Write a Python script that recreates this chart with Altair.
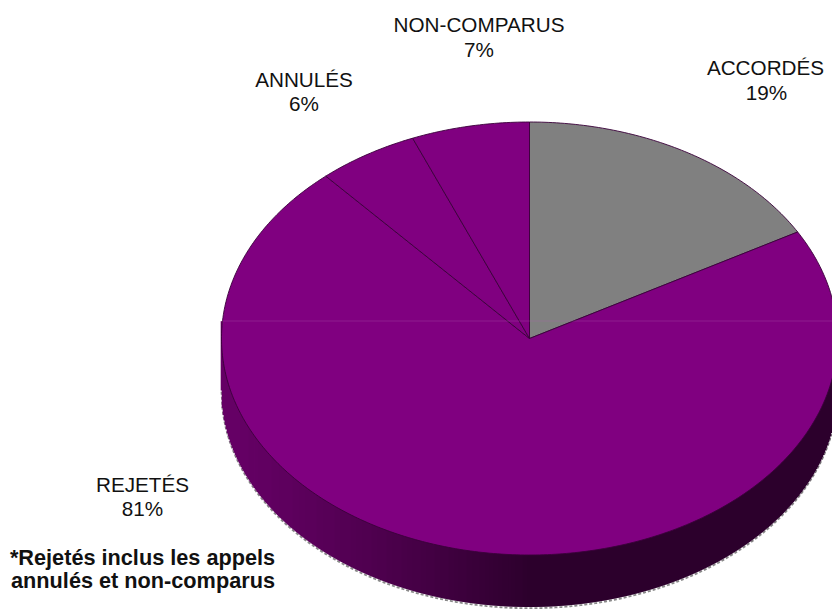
import math
import altair as alt
import pandas as pd

# Values as printed on the slices (they sum to more than 100)
categories = ["ACCORDÉS", "REJETÉS", "ANNULÉS", "NON-COMPARUS"]
values = [19, 81, 6, 7]
slice_colors = ["#808080", "#800080", "#800080", "#800080"]
label_lines = ["ACCORDÉS", "19%", "NON-COMPARUS", "7%", "ANNULÉS", "6%", "REJETÉS", "81%"]
label_x = [765.5, 766.5, 479, 479, 304, 304, 142.5, 142.5]
label_y = [75, 100, 32, 57, 87, 111, 492, 516]
note_lines = ["*Rejetés inclus les appels", "annulés et non-comparus"]
note_x = [142.5, 143]
note_y = [565, 588]

W, H = 824, 602
CX, CY, RX, RY, DEPTH = 529.5, 338.5, 308.0, 216.5, 52.0
x_scale = alt.Scale(domain=[(8 - CX) / RX, (8 + W - CX) / RX], range=[0, W], nice=False, zero=False)
y_scale = alt.Scale(domain=[(CY - 8 - H) / RY, (CY - 8) / RY], range=[H, 0], nice=False, zero=False)
ax = dict(title=None, axis=None, scale=x_scale)
ay = dict(title=None, axis=None, scale=y_scale)
total = sum(values)
d = DEPTH / RY

# Pie slices, derived from the values
rows = []
start = 0.0
for name, v, c in zip(categories, values, slice_colors):
    end = start + v / total * 2 * math.pi
    n = max(4, int((end - start) * 80))
    rows.append(dict(cat=name, i=0, px=0.0, py=0.0, col=c))
    for k in range(n + 1):
        a = start + (end - start) * k / n
        rows.append(dict(cat=name, i=k + 1, px=math.sin(a), py=math.cos(a), col=c))
    rows.append(dict(cat=name, i=n + 2, px=0.0, py=0.0, col=c))
    start = end
slices = pd.DataFrame(rows)


def shade(u):
    # side wall darkens from the left edge to the middle, then stays flat
    t = min(1.0, (u + 1.0))
    r = round(0x66 + (0x2d - 0x66) * t ** 1.3)
    return f"#{r:02x}00{r:02x}"


x_max = (8 + W - CX) / RX
wall_rows = []
for k in range(0, 2 * int(RX) + 1):
    u = -1 + k / RX
    if u > x_max:
        break
    y0 = -math.sqrt(max(0.0, 1 - u * u))
    wall_rows.append(dict(u=u, top=y0 + 0.08, bot=y0 - d, edge=y0 - d - 1.2 / RY, col=shade(u)))
wall = pd.DataFrame(wall_rows)

wall_marks = alt.Chart(wall).mark_rule(strokeWidth=1.6).encode(
    x=alt.X("u:Q", **ax), y=alt.Y("top:Q", **ay), y2="bot:Q",
    color=alt.Color("col:N", scale=None, legend=None),
)
edge = alt.Chart(wall).mark_line(stroke="#8a8a8a", strokeWidth=1.8, strokeDash=[3, 2]).encode(
    x=alt.X("u:Q", **ax), y=alt.Y("edge:Q", **ay), order="u:Q",
)
pie = alt.Chart(slices).mark_line(stroke="#3a003a", strokeWidth=0.9).encode(
    x=alt.X("px:Q", **ax), y=alt.Y("py:Q", **ay), order="i:Q",
    detail="cat:N", fill=alt.Fill("col:N", scale=None, legend=None),
)
seam = alt.Chart(pd.DataFrame({"k": [0]})).mark_rule(stroke="#b060b0", strokeWidth=1, opacity=0.3).encode(
    x=alt.value(214), x2=alt.value(W), y=alt.value(313),
)
labels = alt.Chart(pd.DataFrame(dict(t=label_lines, x=label_x, y=label_y))).mark_text(
    font="Liberation Sans", fontSize=20.7, color="#111111", align="center", baseline="alphabetic",
).encode(
    text="t:N",
    x=alt.X("x:Q", scale=alt.Scale(domain=[8, 8 + W], range=[0, W]), axis=None),
    y=alt.Y("y:Q", scale=alt.Scale(domain=[8, 8 + H], range=[0, H]), axis=None),
)
notes = alt.Chart(pd.DataFrame(dict(t=note_lines, x=note_x, y=note_y))).mark_text(
    font="Liberation Sans", fontSize=21.7, fontWeight="bold", color="#111111", align="center", baseline="alphabetic",
).encode(
    text="t:N",
    x=alt.X("x:Q", scale=alt.Scale(domain=[8, 8 + W], range=[0, W]), axis=None),
    y=alt.Y("y:Q", scale=alt.Scale(domain=[8, 8 + H], range=[0, H]), axis=None),
)

chart = (
    alt.layer(edge, wall_marks, pie, seam, labels, notes)
    .resolve_scale(x="independent", y="independent")
    .properties(width=W, height=H, padding=0, background="white",
                autosize=alt.AutoSizeParams(type="none"))
    .configure_view(stroke=None)
)
chart.save("out.html", embed_options={"renderer": "svg", "actions": False})
